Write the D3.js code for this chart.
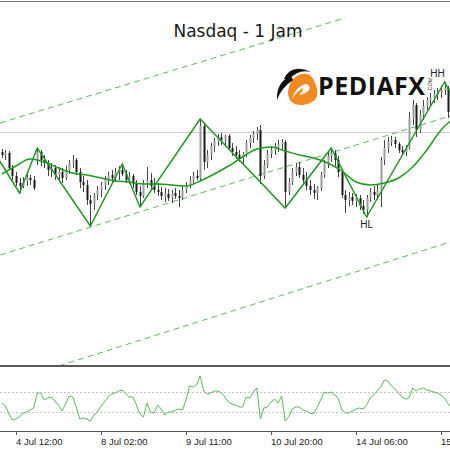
<!DOCTYPE html>
<html>
<head>
<meta charset="utf-8">
<script src="https://cdn.jsdelivr.net/npm/d3@7"></script>
<style>
    body { margin: 0; background: #fff; }
    svg { display: block; }
</style>
</head>
<body>
<div id="chart"></div>
<script>
// H1 bars, prices
var opens = [15248,15245,15247,15232,15224,15217,15214,15219,15222,15220,15240,15248,15240,15237,15230,15232,15225,15228,15222,15230,
    15237,15240,15228,15218,15215,15200,15196,15205,15210,15215,15220,15225,15222,15228,15230,15226,15220,15224,15216,15208,
    15204,15216,15220,15214,15210,15208,15204,15206,15202,15207,15204,15202,15210,15215,15220,15224,15222,15274,15238,15245,
    15254,15259,15263,15260,15264,15252,15248,15245,15242,15246,15257,15262,15266,15270,15224,15235,15246,15250,15253,15256,
    15258,15208,15218,15228,15233,15225,15220,15214,15210,15207,15212,15225,15237,15244,15247,15240,15228,15205,15200,15203,
    15199,15202,15194,15190,15202,15208,15205,15210,15240,15252,15258,15260,15256,15250,15248,15252,15282,15295,15270,15285,
    15294,15300,15302,15306,15308,15310,15312,15288];
var highs = [15251,15250,15249,15235,15228,15222,15223,15226,15225,15224,15252,15250,15245,15240,15237,15235,15233,15232,15234,15240,
    15245,15242,15232,15224,15220,15205,15207,15214,15218,15224,15228,15230,15232,15234,15236,15230,15228,15226,15220,15214,
    15220,15233,15227,15222,15217,15213,15212,15211,15210,15212,15210,15214,15218,15224,15228,15230,15281,15276,15250,15257,
    15262,15266,15267,15265,15266,15257,15254,15250,15248,15260,15265,15269,15273,15275,15240,15250,15254,15257,15260,15261,
    15260,15222,15232,15237,15238,15232,15228,15220,15216,15214,15228,15240,15248,15252,15250,15244,15230,15210,15208,15207,
    15206,15205,15200,15205,15212,15214,15215,15243,15260,15263,15264,15263,15258,15254,15255,15288,15300,15297,15290,15300,
    15303,15307,15310,15312,15314,15318,15314,15305];
var lows = [15242,15240,15230,15220,15214,15207,15212,15214,15215,15210,15235,15234,15232,15224,15223,15220,15218,15217,15220,15226,
    15232,15225,15212,15208,15195,15174,15190,15200,15203,15210,15215,15217,15218,15220,15224,15217,15216,15212,15205,15193,
    15202,15212,15210,15207,15204,15200,15198,15199,15197,15201,15193,15200,15207,15212,15216,15220,15220,15230,15232,15240,
    15248,15254,15255,15253,15250,15244,15241,15238,15236,15243,15252,15257,15260,15216,15221,15232,15242,15245,15248,15250,
    15192,15205,15215,15224,15222,15215,15210,15205,15201,15200,15209,15222,15232,15238,15234,15223,15202,15187,15194,15195,
    15193,15190,15186,15183,15198,15200,15202,15193,15235,15247,15254,15252,15247,15245,15244,15250,15275,15263,15267,15280,
    15290,15295,15297,15300,15302,15305,15282,15277];
var closes = [15245,15247,15232,15224,15217,15214,15219,15222,15220,15212,15248,15240,15237,15230,15232,15225,15228,15222,15230,15237,
    15240,15228,15218,15215,15200,15196,15205,15210,15215,15220,15225,15222,15228,15230,15226,15220,15224,15216,15208,15204,
    15216,15220,15214,15210,15208,15204,15206,15202,15207,15204,15202,15210,15215,15220,15224,15222,15274,15238,15245,15254,
    15259,15263,15260,15264,15252,15248,15245,15242,15246,15257,15262,15266,15270,15224,15235,15246,15250,15253,15256,15258,
    15208,15218,15228,15233,15225,15220,15214,15210,15207,15212,15225,15237,15244,15247,15240,15228,15205,15200,15203,15199,
    15202,15194,15190,15202,15208,15205,15210,15240,15252,15258,15260,15256,15250,15248,15252,15282,15295,15270,15285,15294,
    15300,15302,15306,15308,15310,15312,15288,15300];

// moving average, read every few bars
var maBars = [0,4,8,12,16,20,24,28,32,36,40,44,48,52,56,60,64,68,72,76,80,84,88,92,96,100,104,108,112,116,120,124,127];
var maValues = [15226,15234,15241,15238,15232,15227,15225,15222,15219,15218,15216,15216,15215,15214,15219,15226,15234,15243,15251,15253,
    15249,15245,15242,15237,15229,15218,15215,15217,15222,15233,15250,15270,15280];

// zigzag swing points
var zzBars = [-2,5,10,25,34,39,56,80,93,103,125,127];
var zzPrices = [15247,15207,15252,15174,15236,15193,15281,15192,15252,15183,15318,15305];
var swingLabels = [{bar: 103, price: 15183, text: 'HL', below: true}, {bar: 125, price: 15318, text: 'HH', below: false}];

// channel (bar, price) end points
var channelLines = [
    [[-0.5, 15277], [96.9, 15382]],
    [[-0.5, 15145], [126.6, 15284]],
    [[0, 15016], [126.6, 15158]]
];
var levelPrice = 15268;

// oscillator
var oscValues = [49,46,38,32,33,35,39,40,42,44,59,59,52,54,55,51,47,41,48,56,
    55,45,33,34,33,31,37,40,46,50,55,58,59,61,62,58,55,55,47,38,
    35,49,40,39,47,43,37,40,40,42,43,42,52,66,65,67,76,61,58,59,
    61,61,59,55,50,48,47,45,45,55,54,60,64,33,44,45,50,53,49,56,
    31,35,43,45,45,42,41,39,38,44,52,60,59,60,57,54,42,39,39,41,
    43,44,43,47,54,57,61,65,72,71,66,63,59,55,53,54,64,61,63,64,
    62,61,60,59,57,54,48,44];
var oscLevels = [60, 40];

var tickBars = [4, 28, 52, 76, 100, 124];
var tickLabels = ['4 Jul 12:00', '8 Jul 02:00', '9 Jul 11:00', '10 Jul 20:00', '14 Jul 06:00', '15 Jul 15:00'];

function drawChart() {
    var width = 450, height = 450;
    var mainTop = 2, mainBottom = 365, oscTop = 367, oscBottom = 431;

    var svg = d3.select('#chart')
        .append('svg')
        .attr('width', width)
        .attr('height', height);

    var x = d3.scaleLinear().domain([4, 124]).range([16, 441]);
    var y = d3.scaleLinear().domain([15035, 15398]).range([mainBottom, mainTop]);
    var yOsc = d3.scaleLinear().domain([21, 85]).range([oscBottom, oscTop]);

    svg.append('clipPath').attr('id', 'mainClip')
        .append('rect')
        .attr('x', 0).attr('y', mainTop)
        .attr('width', width).attr('height', mainBottom - mainTop);

    var main = svg.append('g').attr('clip-path', 'url(#mainClip)');

    // horizontal level
    main.append('line')
        .attr('x1', 0).attr('x2', width)
        .attr('y1', Math.round(y(levelPrice)) + 0.5)
        .attr('y2', Math.round(y(levelPrice)) + 0.5)
        .attr('stroke', '#cfcfcf')
        .attr('stroke-width', 1);

    // channel
    main.selectAll('.channel')
        .data(channelLines)
        .enter().append('line')
        .attr('class', 'channel')
        .attr('x1', function (d) { return x(d[0][0]); })
        .attr('y1', function (d) { return y(d[0][1]); })
        .attr('x2', function (d) { return x(d[1][0]); })
        .attr('y2', function (d) { return y(d[1][1]); })
        .attr('stroke', '#5fba5f')
        .attr('stroke-width', 1)
        .attr('stroke-dasharray', '6,4');

    // candles
    var bars = d3.range(closes.length);
    main.selectAll('.wick')
        .data(bars)
        .enter().append('line')
        .attr('class', 'wick')
        .attr('x1', function (i) { return Math.round(x(i)) + 0.5; })
        .attr('x2', function (i) { return Math.round(x(i)) + 0.5; })
        .attr('y1', function (i) { return y(highs[i]); })
        .attr('y2', function (i) { return y(lows[i]); })
        .attr('stroke', '#444')
        .attr('stroke-width', 1);

    main.selectAll('.body')
        .data(bars)
        .enter().append('rect')
        .attr('class', 'body')
        .attr('x', function (i) { return Math.round(x(i)) - 0.5; })
        .attr('width', 2)
        .attr('y', function (i) { return y(Math.max(opens[i], closes[i])); })
        .attr('height', function (i) { return Math.max(1, Math.abs(y(opens[i]) - y(closes[i]))); })
        .attr('fill', function (i) { return closes[i] >= opens[i] ? '#9c9c9c' : '#1a1a1a'; });

    // moving average
    var maLine = d3.line()
        .x(function (d, i) { return x(maBars[i]); })
        .y(function (d) { return y(d); })
        .curve(d3.curveMonotoneX);
    main.append('path')
        .datum(maValues)
        .attr('d', maLine)
        .attr('fill', 'none')
        .attr('stroke', '#1f9a1f')
        .attr('stroke-width', 1.5);

    // zigzag
    var zzLine = d3.line()
        .x(function (d, i) { return x(zzBars[i]); })
        .y(function (d) { return y(d); });
    main.append('path')
        .datum(zzPrices)
        .attr('d', zzLine)
        .attr('fill', 'none')
        .attr('stroke', '#24962a')
        .attr('stroke-width', 1.5);

    main.selectAll('.swing')
        .data(swingLabels)
        .enter().append('text')
        .attr('class', 'swing')
        .attr('x', function (d) { return d.below ? x(d.bar) : x(d.bar) - 7; })
        .attr('y', function (d) { return y(d.price) + (d.below ? 11 : -5); })
        .attr('text-anchor', 'middle')
        .style('font-family', 'Liberation Sans, Arial, sans-serif')
        .style('font-size', '10px')
        .style('fill', '#222')
        .text(function (d) { return d.text; });

    // title
    svg.append('text')
        .attr('x', 238)
        .attr('y', 37)
        .attr('text-anchor', 'middle')
        .style('font-family', 'Comic Sans MS, DejaVu Sans, sans-serif')
        .style('font-size', '17px')
        .style('fill', '#1a1a1a')
        .text('Nasdaq - 1 Jam');

    // logo
    var logo = svg.append('g');
    logo.append('path')
        .attr('d', 'M293,79 Q301,71 310,75 Q315,80 317,89 Q319,98 312,102 Q304,107 295,104 Q288,101 288,92 Q289,84 293,79 Z')
        .attr('fill', '#f28a22');
    logo.append('path')
        .attr('d', 'M292,99 Q296,86 306,84 Q311,85 309,90 Q306,94 299,95 Q304,90 303,88 Q298,90 292,99 Z')
        .attr('fill', '#fff');
    logo.append('path')
        .attr('d', 'M284,79 Q291,63 311,72 Q298,69 290,79 Z')
        .attr('fill', '#111');
    logo.append('path')
        .attr('d', 'M291,76 Q276,82 277,100 Q281,88 293,80 Z')
        .attr('fill', '#111');
    logo.append('text')
        .attr('x', 318)
        .attr('y', 95)
        .style('font-family', 'Open Sans, sans-serif')
        .style('font-weight', 700)
        .style('font-size', '25px')
        .style('fill', '#111')
        .attr('textLength', 107)
        .text('PEDIAFX');
    logo.append('text')
        .attr('transform', 'translate(432,92) rotate(-90)')
        .style('font-family', 'Liberation Sans, sans-serif')
        .style('font-size', '5.5px')
        .style('fill', '#333')
        .text('.COM');

    // frame
    svg.append('line')
        .attr('x1', 0).attr('x2', width).attr('y1', 1.5).attr('y2', 1.5)
        .attr('stroke', '#777').attr('stroke-width', 1);
    svg.append('rect')
        .attr('x', 0).attr('y', mainBottom).attr('width', width).attr('height', 2)
        .attr('fill', '#5a5a5a');
    svg.append('line')
        .attr('x1', 0).attr('x2', width).attr('y1', oscBottom + 0.5).attr('y2', oscBottom + 0.5)
        .attr('stroke', '#555').attr('stroke-width', 1);

    // oscillator panel
    svg.selectAll('.level')
        .data(oscLevels)
        .enter().append('line')
        .attr('class', 'level')
        .attr('x1', 0).attr('x2', width)
        .attr('y1', function (d) { return Math.round(yOsc(d)) + 0.5; })
        .attr('y2', function (d) { return Math.round(yOsc(d)) + 0.5; })
        .attr('stroke', '#c4c4c4')
        .attr('stroke-dasharray', '2,2');

    var oscLine = d3.line()
        .x(function (d, i) { return x(i); })
        .y(function (d) { return yOsc(d); });
    svg.append('path')
        .datum(oscValues)
        .attr('d', oscLine)
        .attr('fill', 'none')
        .attr('stroke', '#5cb85c')
        .attr('stroke-width', 1);

    // time axis
    var ticks = svg.selectAll('.tick')
        .data(tickBars)
        .enter().append('g')
        .attr('class', 'tick')
        .attr('transform', function (d) { return 'translate(' + Math.round(x(d)) + ',0)'; });
    ticks.append('line')
        .attr('x1', 0.5).attr('x2', 0.5)
        .attr('y1', oscBottom).attr('y2', oscBottom + 4)
        .attr('stroke', '#555');
    ticks.append('text')
        .attr('x', 0)
        .attr('y', 445)
        .style('font-family', 'Liberation Sans, Arial, sans-serif')
        .style('font-size', '9.5px')
        .style('fill', '#222')
        .text(function (d, i) { return tickLabels[i]; });
}

drawChart();
</script>
</body>
</html>
